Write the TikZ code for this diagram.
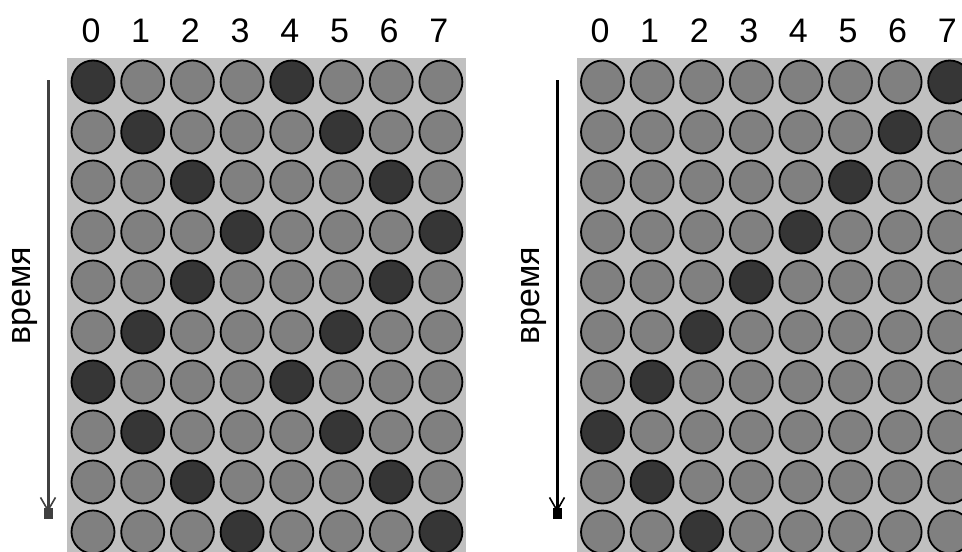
\documentclass[tikz,border=0pt]{standalone}
\usepackage{fontspec}
\setmainfont{Liberation Sans}
\usetikzlibrary{arrows.meta}
\definecolor{traygray}{HTML}{C0C0C0}
\definecolor{beadgray}{HTML}{808080}
\definecolor{beaddark}{HTML}{363636}

\begin{document}
\begin{tikzpicture}[
    x=1pt, y=-1pt,
    tray/.style={fill=traygray},
    bead/.style={circle, draw=black, line width=1.8pt, minimum size=43pt, inner sep=0pt, fill=beadgray},
    lit/.style={fill=beaddark},
    colnum/.style={font=\fontsize{34}{36}\selectfont},
    timeword/.style={font=\fontsize{34}{36}\selectfont, rotate=90},
    timeline/.style={line width=3pt, -{Straight Barb[length=13pt,width=15pt,line width=1.6pt,sep=-4pt] Rectangle[length=11pt,width=9pt]}}
]
\clip (0,0) rectangle (962,552);
\fill[white] (0,0) rectangle (962,552);

% left tray: two lit beads per row
\fill[tray] (67,58) rectangle (466,560);
\foreach \c in {0,...,7}
    \node[colnum] (Lnum\c) at ({91+49.7*\c},31) {\c};
\foreach \r/\a/\b in {0/0/4,1/1/5,2/2/6,3/3/7,4/2/6,5/1/5,6/0/4,7/1/5,8/2/6,9/3/7}{
    \foreach \c in {0,...,7}{
        \ifnum\c=\a \def\tone{lit}\else\ifnum\c=\b \def\tone{lit}\else\def\tone{}\fi\fi
        \node[bead, \tone] (L\r-\c) at ({93+49.7*\c},{82+50*\r}) {};
    }
}
\coordinate (Ltop) at (48,80);
\coordinate (Lbot) at (48,519);
\draw[timeline, draw=black!75] (Ltop) -- (Lbot);
\node[timeword] (Ltime) at (25,296) {время};

% right tray: one lit bead per row
\fill[tray] (577,58) rectangle (970,560);
\foreach \c in {0,...,7}
    \node[colnum] (Rnum\c) at ({600+49.6*\c},31) {\c};
\foreach \r/\a in {0/7,1/6,2/5,3/4,4/3,5/2,6/1,7/0,8/1,9/2}{
    \foreach \c in {0,...,7}{
        \ifnum\c=\a \def\tone{lit}\else\def\tone{}\fi
        \node[bead, \tone] (R\r-\c) at ({602.5+49.6*\c},{82+50*\r}) {};
    }
}
\coordinate (Rtop) at (557,80);
\coordinate (Rbot) at (557,519);
\draw[timeline] (Rtop) -- (Rbot);
\node[timeword] (Rtime) at (534,296) {время};
\end{tikzpicture}
\end{document}
